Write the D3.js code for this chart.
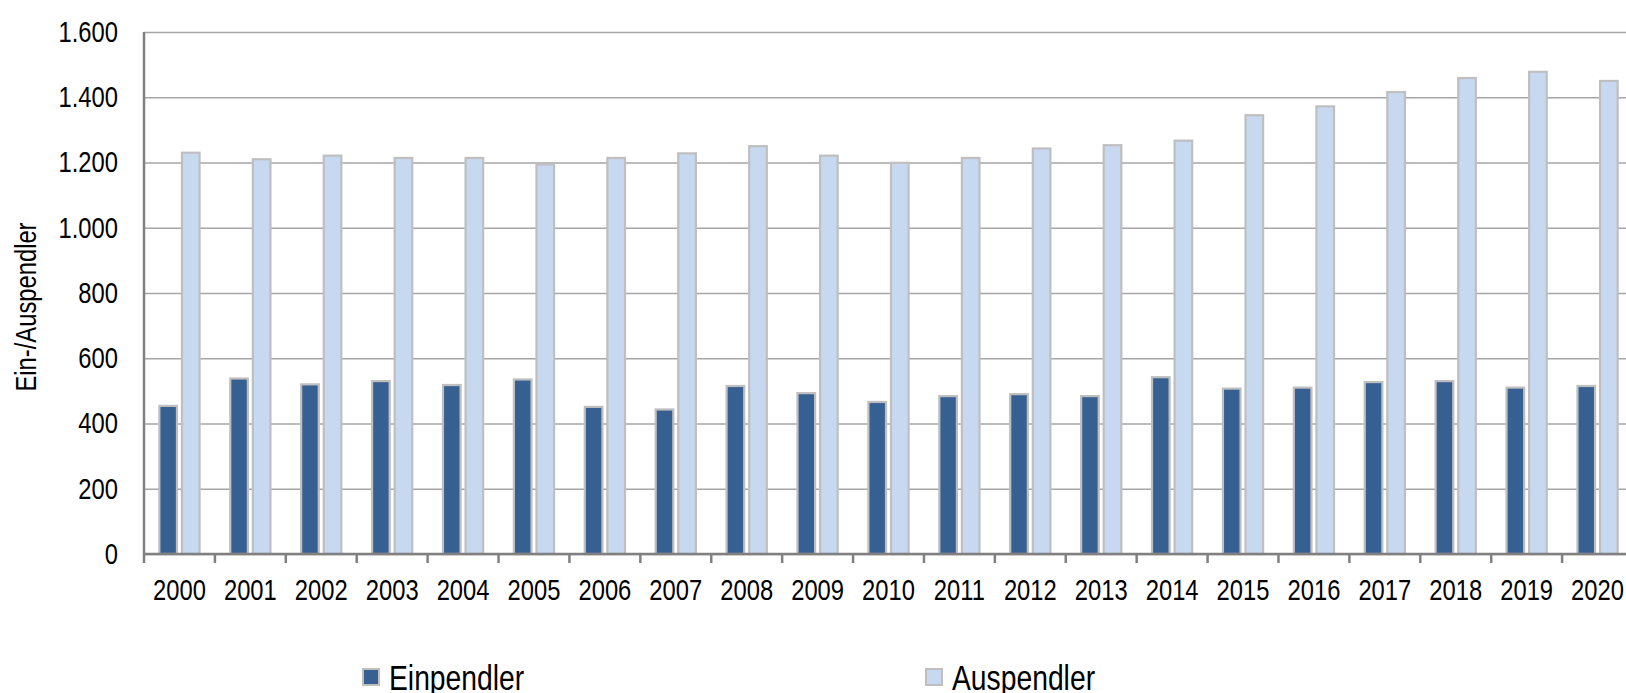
<!DOCTYPE html>
<html lang="de">
<head>
    <meta charset="UTF-8">
    <title>Ein- und Auspendler</title>
    <script src="https://d3js.org/d3.v7.min.js"></script>
    <style>
        body { margin: 0; background: #fff; }
        #chart text {
            font-family: "Liberation Sans", Arial, sans-serif;
            fill: #000;
        }
        .grid line { stroke: #a6a6a6; stroke-width: 1.5; }
        .grid path { display: none; }
        .axis-line { stroke: #808080; stroke-width: 2.5; fill: none; }
        .bar { stroke: #bfbfbf; stroke-width: 2.2; }
    </style>
</head>
<body>
    <svg id="chart" width="1626" height="693"></svg>

    <script>
        const years = ["2000","2001","2002","2003","2004","2005","2006","2007","2008","2009","2010",
                       "2011","2012","2013","2014","2015","2016","2017","2018","2019","2020"];
        const einpendler = [454, 538, 520, 530, 518, 535, 451, 443, 515, 493, 466,
                            484, 490, 484, 542, 507, 510, 527, 530, 510, 515];
        const auspendler = [1230, 1210, 1221, 1214, 1214, 1194, 1214, 1228, 1250, 1221, 1199,
                            1214, 1243, 1253, 1267, 1345, 1372, 1416, 1459, 1478, 1450];
        const seriesNames = ["Einpendler", "Auspendler"];
        const seriesColors = ["#376092", "#c6d9f1"];
        const yTicks = [0, 200, 400, 600, 800, 1000, 1200, 1400, 1600];

        const svg = d3.select("#chart");
        const margin = {left: 144, top: 32, right: 1633, bottom: 554};
        const narrow = 0.82;   // the picture's type is squeezed horizontally

        const x = d3.scaleBand()
            .domain(years)
            .range([margin.left, margin.right]);

        const xSub = d3.scaleBand()
            .domain(seriesNames)
            .range([0, x.bandwidth()])
            .paddingInner(0.22)
            .paddingOuter(0.68);

        const y = d3.scaleLinear()
            .domain([0, 1600])
            .range([margin.bottom, margin.top]);

        const de = d3.formatLocale({decimal: ",", thousands: ".", grouping: [3], currency: ["", " €"]});
        const fmt = de.format(",d");

        // gridlines
        svg.append("g")
            .attr("class", "grid")
            .attr("transform", `translate(${margin.left},0)`)
            .call(d3.axisLeft(y).tickValues(yTicks).tickSize(-(margin.right - margin.left)).tickFormat(""));

        // y tick labels
        const yAxis = svg.append("g")
            .attr("transform", `translate(${margin.left},0)`)
            .call(d3.axisLeft(y).tickValues(yTicks).tickSize(0).tickFormat(fmt));
        yAxis.select(".domain").remove();
        yAxis.selectAll("text")
            .attr("font-size", 29)
            .attr("x", 0)
            .attr("transform", `translate(-26,0) scale(${narrow},1)`);

        // bars
        const rows = years.map((yr, i) => ({year: yr, values: [einpendler[i], auspendler[i]]}));
        const groups = svg.selectAll(".yr")
            .data(rows)
            .enter()
            .append("g")
            .attr("transform", d => `translate(${x(d.year)},0)`);

        groups.selectAll("rect")
            .data(d => d.values.map((v, k) => ({name: seriesNames[k], value: v, k: k})))
            .enter()
            .append("rect")
            .attr("class", "bar")
            .attr("x", d => xSub(d.name))
            .attr("width", xSub.bandwidth())
            .attr("y", d => y(d.value))
            .attr("height", d => y(0) - y(d.value))
            .attr("fill", d => seriesColors[d.k]);

        // axes lines
        svg.append("line")
            .attr("class", "axis-line")
            .attr("x1", margin.left).attr("x2", margin.left)
            .attr("y1", margin.top).attr("y2", margin.bottom + 9);
        svg.append("line")
            .attr("class", "axis-line")
            .attr("x1", margin.left).attr("x2", margin.right)
            .attr("y1", margin.bottom).attr("y2", margin.bottom);
        svg.selectAll(".xtick")
            .data(years.slice(1))
            .enter()
            .append("line")
            .attr("class", "axis-line")
            .attr("x1", d => x(d)).attr("x2", d => x(d))
            .attr("y1", margin.bottom).attr("y2", margin.bottom + 9);

        // x labels
        const xAxis = svg.append("g")
            .attr("transform", `translate(0,${margin.bottom})`)
            .call(d3.axisBottom(x).tickSize(0).tickPadding(0));
        xAxis.select(".domain").remove();
        xAxis.selectAll("text")
            .attr("font-size", 29)
            .attr("dy", null)
            .attr("y", 0)
            .attr("transform", `translate(0,46) scale(${narrow},1)`);

        // y title
        svg.append("text")
            .attr("transform", `translate(36,307) rotate(-90) scale(${narrow},1)`)
            .attr("text-anchor", "middle")
            .attr("font-size", 29)
            .text("Ein-/Auspendler");

        // legend
        const legendX = [363, 926];
        const legend = svg.selectAll(".legend")
            .data(seriesNames)
            .enter()
            .append("g")
            .attr("transform", (d, i) => `translate(${legendX[i]},669)`);
        legend.append("rect")
            .attr("width", 16).attr("height", 16)
            .attr("fill", (d, i) => seriesColors[i])
            .attr("stroke", "#bfbfbf")
            .attr("stroke-width", 2);
        legend.append("text")
            .attr("transform", `translate(26,21) scale(${narrow},1)`)
            .attr("font-size", 34.5)
            .text(d => d);
    </script>
</body>
</html>
